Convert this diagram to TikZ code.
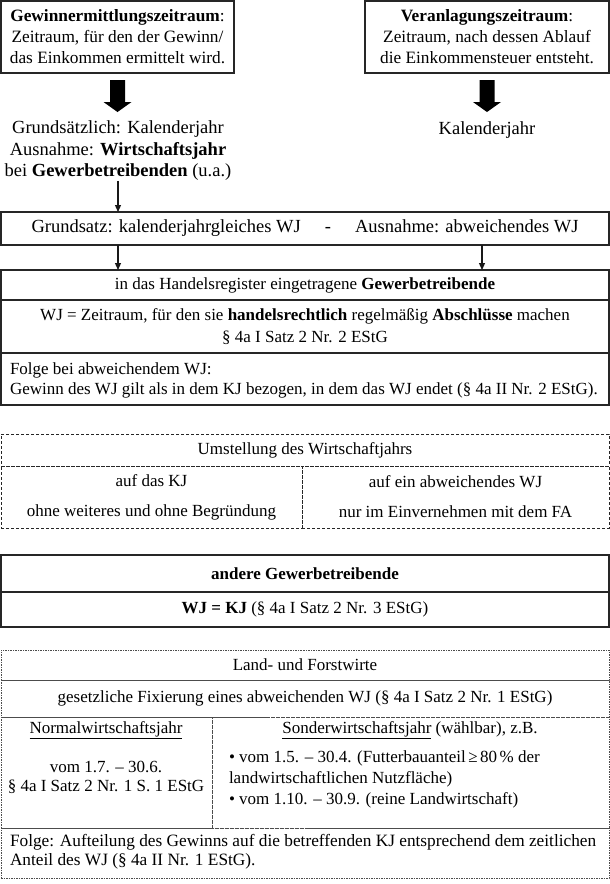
\documentclass[tikz,border=0pt]{standalone}
\usepackage{fontspec}
\setmainfont{Liberation Serif}
\usetikzlibrary{arrows.meta,calc}
\newcommand\topfont{\fontsize{18.5}{21.5}\selectfont}
\newcommand\boxfont{\fontsize{17.3}{21}\selectfont}
\newcommand\lowfont{\fontsize{17}{20}\selectfont}
\begin{document}
\begin{tikzpicture}[x=1pt,y=-1pt,
  every node/.style={font=\lowfont, inner sep=0pt, outer sep=0pt},
  sbox/.style={draw=black!85, line width=1.3pt},
  dbox/.style={draw=black!85, line width=1pt, dash pattern=on 3pt off 2pt},
  obox/.style={draw=black!70, line width=0.9pt, dash pattern=on 1.5pt off 1pt},
  thinarr/.style={draw=black!90, line width=1.2pt, -{Triangle[length=7pt,width=6pt]}},
  bigarr/.style={fill=black}]
\path[use as bounding box] (0,0) rectangle (610,884);

% top boxes
\node[sbox, minimum width=233pt, minimum height=72pt, align=center, font=\boxfont] (b1) at (117.5,37)
  {\textbf{Gewinnermittlungszeitraum}:\\Zeitraum, für den der Gewinn/\\das Einkommen ermittelt wird.};
\node[sbox, minimum width=244pt, minimum height=72pt, align=center, font=\boxfont] (b2) at (487,37)
  {\textbf{Veranlagungszeitraum}:\\Zeitraum, nach dessen Ablauf\\die Einkommensteuer entsteht.};

\node[align=center, font=\topfont] (t1) at (118,151)
  {Grundsätzlich: Kalenderjahr\\Ausnahme: \textbf{Wirtschaftsjahr}\\bei \textbf{Gewerbetreibenden} (u.a.)};
\node[font=\topfont] (k1) at (487,130) {Kalenderjahr};

% thick arrows
\fill[bigarr] ($(b1.south)+(-7.5,7)$) -- ++(15,0) -- ++(0,22) -- ++(6.5,0) -- ++(-14,10) -- ++(-14,-10) -- ++(6.5,0) -- cycle;
\fill[bigarr] ($(b2.south)+(-7.5,7)$) -- ++(15,0) -- ++(0,22) -- ++(6.5,0) -- ++(-14,10) -- ++(-14,-10) -- ++(6.5,0) -- cycle;

% Grundsatz box
\node[sbox, minimum width=608pt, minimum height=33pt, font=\topfont] (gs) at (305,228.5)
  {Grundsatz: kalenderjahrgleiches WJ\hspace{24pt}-\hspace{24pt}Ausnahme: abweichendes WJ};
\coordinate (ra) at (482,0);

% Handelsregister box
\node[sbox, minimum width=608pt, minimum height=30pt] (hr1) at (305,285)
  {in das Handelsregister eingetragene \textbf{Gewerbetreibende}};
\node[sbox, minimum width=608pt, minimum height=53pt, align=center, font=\fontsize{17}{22}\selectfont] (hr2) at (305,327)
  {WJ = Zeitraum, für den sie \textbf{handelsrechtlich} regelmäßig \textbf{Abschlüsse} machen\\§ 4a I Satz 2 Nr. 2 EStG};
\node[sbox, minimum width=608pt, minimum height=52pt] (hr3) at (305,379) {};
\node[anchor=west, align=left] (hr3t) at (10,380)
  {Folge bei abweichendem WJ:\\Gewinn des WJ gilt als in dem KJ bezogen, in dem das WJ endet (§ 4a II Nr. 2 EStG).};

\draw[thinarr] (t1.south) -- (t1.south |- gs.north);
\draw[thinarr] (gs.south -| t1.south) -- (hr1.north -| t1.south);
\draw[thinarr] (gs.south -| ra) -- (hr1.north -| ra);

% Umstellung (dashed)
\node[dbox, minimum width=608pt, minimum height=32pt] (um1) at (305,450) {Umstellung des Wirtschaftjahrs};
\node[dbox, minimum width=301pt, minimum height=62pt, align=center, font=\fontsize{17}{30}\selectfont] (um2) at (151.5,497)
  {auf das KJ\\ohne weiteres und ohne Begründung};
\node[dbox, minimum width=307pt, minimum height=62pt, align=center, font=\fontsize{17}{30}\selectfont] (um3) at (455.5,497)
  {auf ein abweichendes WJ\\nur im Einvernehmen mit dem FA};

% andere Gewerbetreibende
\node[sbox, minimum width=608pt, minimum height=37pt] (ag1) at (305,573.5) {\textbf{andere Gewerbetreibende}};
\node[sbox, minimum width=608pt, minimum height=35pt] (ag2) at (305,609.5) {\textbf{WJ = KJ} (§ 4a I Satz 2 Nr. 3 EStG)};

% Land- und Forstwirte (dotted)
\node[obox, minimum width=608pt, minimum height=30pt] (lf1) at (305,665) {Land- und Forstwirte};
\node[obox, minimum width=608pt, minimum height=37pt] (lf2) at (305,698.5) {gesetzliche Fixierung eines abweichenden WJ (§ 4a I Satz 2 Nr. 1 EStG)};
\node[obox, minimum width=211pt, minimum height=111pt] (lf3) at (106.5,772.5) {};
\node[obox, minimum width=397pt, minimum height=111pt] (lf4) at (410.5,772.5) {};
\node[obox, minimum width=608pt, minimum height=50pt] (lf5) at (305,853) {};

\node (n1) at (106,730) {\underline{Normalwirtschaftsjahr}};
\node[align=center, font=\fontsize{17}{19}\selectfont] (n2) at (106,777.5) {vom 1.7. – 30.6.\\§ 4a I Satz 2 Nr. 1 S. 1 EStG};
\node (s1) at (410,730) {\underline{Sonderwirtschaftsjahr} (wählbar), z.B.};
\node[anchor=west, align=left, font=\fontsize{17}{21}\selectfont] (s2) at (229,779)
  {• vom 1.5. – 30.4. (Futterbauanteil\hspace{2.5pt}≥\hspace{2.5pt}80\hspace{2.5pt}\% der\\landwirtschaftlichen Nutzfläche)\\• vom 1.10. – 30.9. (reine Landwirtschaft)};
\node[anchor=west, align=left, font=\fontsize{17.3}{19}\selectfont] (f1) at (10,852)
  {Folge: Aufteilung des Gewinns auf die betreffenden KJ entsprechend dem zeitlichen\\Anteil des WJ (§ 4a II Nr. 1 EStG).};
\end{tikzpicture}
\end{document}
